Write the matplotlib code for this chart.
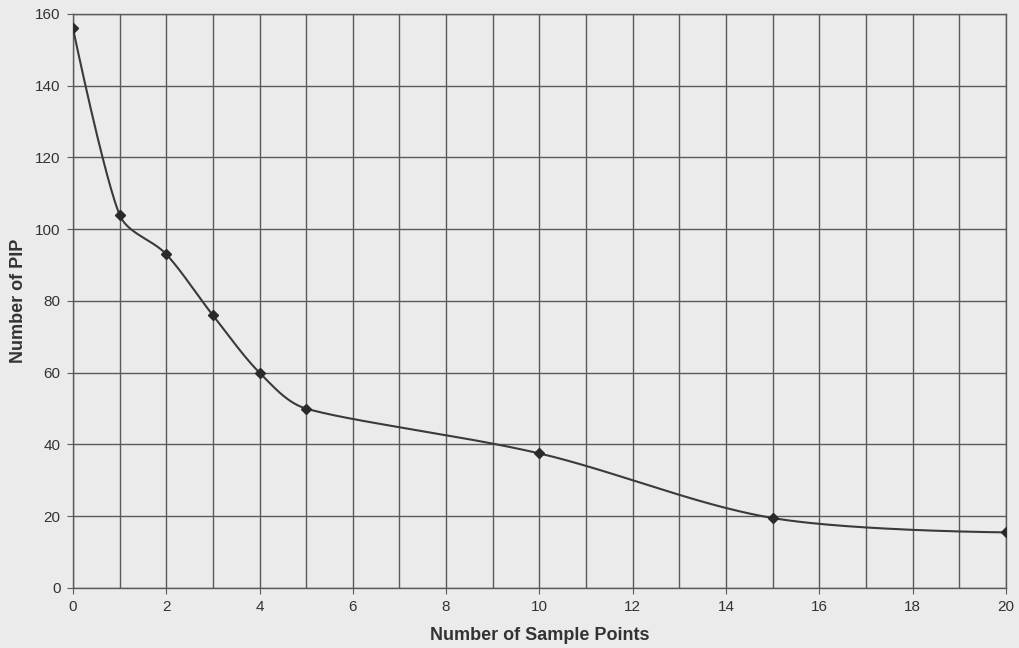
import numpy as np
import matplotlib
matplotlib.use("Agg")
import matplotlib.pyplot as plt

# Sample-size study: number of PIPs retained versus number of sample points
sample_points = [0, 1, 2, 3, 4, 5, 10, 15, 20]
pip_counts = [156, 104, 93, 76, 60, 50, 37.5, 19.5, 15.5]
x_ticks = [0, 2, 4, 6, 8, 10, 12, 14, 16, 18, 20]
y_ticks = [0, 20, 40, 60, 80, 100, 120, 140, 160]


def smooth_curve(xs, ys, sx, sy, steps=50):
    """Bezier smoothing through every point; interior tangents follow the
    neighbours, handles are a sixth of the neighbour span capped by the
    segment length; end points carry no handle."""
    P = np.column_stack([np.asarray(xs, float) * sx, np.asarray(ys, float) * sy])
    n = len(P)
    t = np.linspace(0, 1, steps)[:, None]

    def handle(i, chord):
        if i == 0 or i == n - 1:
            return np.zeros(2)
        d = P[i + 1] - P[i - 1]
        nd = np.linalg.norm(d)
        return d / nd * min(nd / 6.0, chord / 3.0)

    pts = []
    for i in range(n - 1):
        p1, p2 = P[i], P[i + 1]
        chord = np.linalg.norm(p2 - p1)
        c1 = p1 + handle(i, chord)
        c2 = p2 - handle(i + 1, chord)
        b = (1 - t) ** 3 * p1 + 3 * (1 - t) ** 2 * t * c1 \
            + 3 * (1 - t) * t ** 2 * c2 + t ** 3 * p2
        pts.append(b)
    pts = np.vstack(pts)
    return pts[:, 0] / sx, pts[:, 1] / sy


plt.rcParams["font.family"] = ["Liberation Sans", "DejaVu Sans"]

bg = "#ebebeb"
fig = plt.figure(figsize=(10.19, 6.48), dpi=100, facecolor=bg)
ax = fig.add_axes([0.0716, 0.0926, 0.9155, 0.886])
ax.set_facecolor(bg)

grid_col = "#5a5a5a"
ax.set_xlim(0, 20)
ax.set_ylim(0, 160)
ax.set_xticks(x_ticks)
ax.set_xticks(np.arange(0, 21, 1), minor=True)
ax.set_yticks(y_ticks)
ax.grid(True, which="both", axis="x", color=grid_col, linewidth=1.0)
ax.grid(True, which="major", axis="y", color=grid_col, linewidth=1.0)
ax.set_axisbelow(True)

for side in ax.spines.values():
    side.set_color(grid_col)
    side.set_linewidth(1.0)

ax.tick_params(axis="both", which="major", length=4, color=grid_col,
               labelsize=11, labelcolor="#333333", pad=5)
ax.tick_params(axis="x", which="minor", length=0)

# screen-space scale (pixels per data unit) for the smoothing
cx, cy = smooth_curve(sample_points, pip_counts, 933 / 20, 574 / 160)
ax.plot(cx, cy, color="#3a3a3a", linewidth=1.5, zorder=3)
ax.plot(sample_points, pip_counts, linestyle="none", marker="D", markersize=5,
        color="#2a2a2a", zorder=4)

ax.set_xlabel("Number of Sample Points", fontsize=13, fontweight="bold",
              color="#333333", labelpad=9)
ax.set_ylabel("Number of PIP", fontsize=13, fontweight="bold",
              color="#333333", labelpad=6)

fig.savefig("out.png", dpi=100, facecolor=bg)
